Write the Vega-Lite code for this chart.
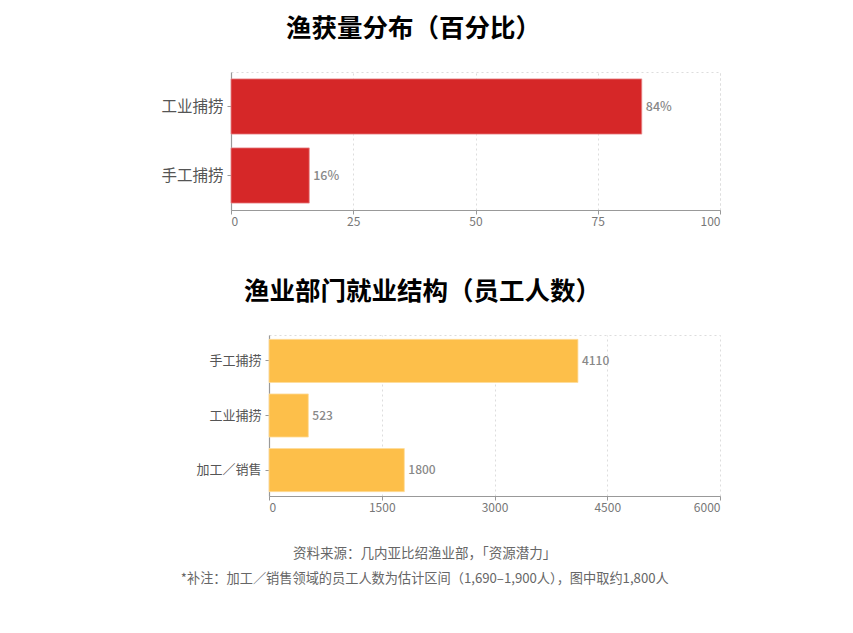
{
  "$schema": "https://vega.github.io/schema/vega-lite/v6.json",
  "background": "white",
  "padding": {"left": 160, "top": 16, "right": 10, "bottom": 10},
  "spacing": 51,
  "title": {
    "text": "资料来源：几内亚比绍渔业部，「资源潜力」",
    "subtitle": "*补注：加工／销售领域的员工人数为估计区间（1,690–1,900人），图中取约1,800人",
    "orient": "bottom",
    "anchor": "middle",
    "dx": -16,
    "offset": 34,
    "fontSize": 13.5,
    "fontWeight": "normal",
    "color": "#666",
    "subtitleFontSize": 13.2,
    "subtitleColor": "#666",
    "subtitlePadding": 12
  },
  "datasets": {
    "catch": [
      {"type": "工业捕捞", "share": 84, "label": "84%"},
      {"type": "手工捕捞", "share": 16, "label": "16%"}
    ],
    "jobs": [
      {"sector": "手工捕捞", "staff": 4110},
      {"sector": "工业捕捞", "staff": 523},
      {"sector": "加工／销售", "staff": 1800}
    ]
  },
  "vconcat": [
    {
      "title": {"text": "渔获量分布（百分比）", "dx": -62},
      "width": 489,
      "height": 138,
      "data": {"name": "catch"},
      "encoding": {
        "y": {
          "field": "type",
          "type": "nominal",
          "sort": null,
          "title": null,
          "scale": {"paddingInner": 0.2, "paddingOuter": 0.1},
          "axis": {"labelFontSize": 15.5, "labelColor": "#555", "labelPadding": 4}
        },
        "x": {
          "field": "share",
          "type": "quantitative",
          "title": null,
          "scale": {"domain": [0, 100]},
          "axis": {"values": [0, 25, 50, 75, 100], "format": "d"}
        }
      },
      "layer": [
        {"mark": {"type": "bar", "color": "#d62728", "stroke": "#e8888a", "strokeWidth": 0.8}},
        {
          "mark": {"type": "text", "align": "left", "dx": 4, "fontSize": 12.5, "color": "#888", "fontWeight": 500},
          "encoding": {"text": {"field": "label"}}
        }
      ]
    },
    {
      "title": {"text": "渔业部门就业结构（员工人数）", "dx": -53},
      "width": 489,
      "height": 161,
      "view": {"stroke": null},
      "data": {"name": "jobs"},
      "encoding": {
        "y": {
          "field": "sector",
          "type": "nominal",
          "sort": null,
          "title": null,
          "scale": {"paddingInner": 0.21, "paddingOuter": 0.08},
          "axis": {"labelFontSize": 13, "labelColor": "#555", "labelPadding": 4, "offset": -38}
        }
      },
      "layer": [
        {
          "mark": {"type": "bar", "color": "#fdbf4a", "stroke": "#fedc9a", "strokeWidth": 0.8},
          "encoding": {
            "x": {
              "field": "staff",
              "type": "quantitative",
              "title": null,
              "scale": {"domain": [0, 6000], "range": [38, 489]},
              "axis": {"values": [0, 1500, 3000, 4500, 6000], "format": "d"}
            }
          }
        },
        {
          "mark": {"type": "text", "align": "left", "dx": 4, "fontSize": 12, "color": "#888", "fontWeight": 500},
          "encoding": {
            "x": {
              "field": "staff",
              "type": "quantitative",
              "title": null,
              "axis": {"orient": "top", "labels": false, "ticks": false, "grid": false, "domainColor": "#ddd", "domainWidth": 1, "domainDash": [2, 3]}
            },
            "text": {"field": "staff", "type": "quantitative", "format": "d"}
          }
        }
      ],
      "resolve": {"axis": {"x": "independent"}}
    }
  ],
  "config": {
    "font": "Noto Sans CJK SC",
    "view": {"stroke": "#ddd", "strokeDash": [2, 3]},
    "title": {"fontSize": 25.5, "fontWeight": "bold", "color": "#000", "offset": 30, "anchor": "middle"},
    "axis": {
      "domainColor": "#999",
      "domainWidth": 1.2,
      "tickColor": "#999",
      "tickSize": 4,
      "labelColor": "#777",
      "labelFontSize": 12,
      "gridColor": "#ddd",
      "gridDash": [2, 3]
    }
  }
}
